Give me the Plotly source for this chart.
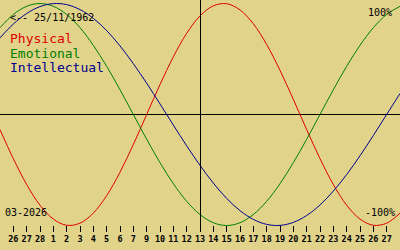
import plotly.graph_objects as go

# Day index across the window (0 = left edge, 30 = right edge)
days = list(range(31))

physical = [-0.136, -0.398, -0.631, -0.817, -0.942, -0.998, -0.979, -0.888, -0.731, -0.520,
            -0.270, 0.000, 0.270, 0.520, 0.731, 0.888, 0.979, 0.998, 0.942, 0.817,
            0.631, 0.398, 0.136, -0.136, -0.398, -0.631, -0.817, -0.942, -0.998, -0.979,
            -0.888]
emotional = [0.782, 0.901, 0.975, 1.000, 0.975, 0.901, 0.782, 0.623, 0.434, 0.223,
             0.000, -0.223, -0.434, -0.623, -0.782, -0.901, -0.975, -1.000, -0.975, -0.901,
             -0.782, -0.623, -0.434, -0.223, 0.000, 0.223, 0.434, 0.623, 0.782, 0.901,
             0.975]
intellectual = [0.690, 0.815, 0.910, 0.972, 0.999, 0.990, 0.945, 0.866, 0.756, 0.618,
                0.458, 0.282, 0.095, -0.095, -0.282, -0.458, -0.618, -0.756, -0.866, -0.945,
                -0.990, -0.999, -0.972, -0.910, -0.815, -0.690, -0.541, -0.372, -0.189, 0.000,
                0.189]

tick_days = list(range(1, 30))
tick_labels = ["26", "27", "28", "1", "2", "3", "4", "5", "6", "7", "9", "10", "11", "12", "13",
               "14", "15", "16", "17", "18", "19", "20", "21", "22", "23", "24", "25", "26", "27"]
today_index = 15

series_names = ["Physical", "Emotional", "Intellectual"]
series_colors = ["#e00000", "#008000", "#000090"]

BG = "#e1d38a"
MONO = "DejaVu Sans Mono"

W, H = 400, 250
x_min, x_max = 0, 30
y_top, y_bot = 1.0315, -1.2207
half_px_x = 0.5 * (x_max - x_min) / W  # keep the 1px today line crisp


def py(px):
    return 1 - px / H


def pxx(px):
    return px / W


fig = go.Figure()
for name, vals, col in zip(series_names, [physical, emotional, intellectual], series_colors):
    fig.add_trace(go.Scatter(x=days, y=vals, mode="lines", name=name,
                             line=dict(color=col, width=1, shape="spline", smoothing=1),
                             hoverinfo="skip"))

# today line
fig.add_shape(type="line", xref="x", yref="paper",
              x0=today_index + half_px_x, x1=today_index + half_px_x,
              y0=py(231), y1=1, line=dict(color="black", width=1))

ann = []
ann.append(dict(text="<-- 25/11/1962", x=pxx(9), y=py(17.7), xanchor="left", yanchor="middle",
                font=dict(family=MONO, size=10, color="black")))
for i, (name, col) in enumerate(zip(series_names, series_colors)):
    ann.append(dict(text=name, x=pxx(9), y=py(38.8 + 14.4 * i), xanchor="left", yanchor="middle",
                    font=dict(family=MONO, size=13, color=col)))
ann.append(dict(text="100%", x=pxx(393), y=py(12.2), xanchor="right", yanchor="middle",
                font=dict(family=MONO, size=10, color="black")))
ann.append(dict(text="-100%", x=pxx(396), y=py(212.8), xanchor="right", yanchor="middle",
                font=dict(family=MONO, size=10, color="black")))
ann.append(dict(text="03-2026", x=pxx(4), y=py(212), xanchor="left", yanchor="middle",
                font=dict(family=MONO, size=10, color="black")))
for a in ann:
    a.update(xref="paper", yref="paper", showarrow=False, borderpad=0)

fig.update_layout(
    width=W, height=H, margin=dict(l=0, r=0, t=0, b=0),
    paper_bgcolor=BG, plot_bgcolor=BG, showlegend=False,
    annotations=ann,
    xaxis=dict(range=[x_min, x_max], anchor="free", position=py(224.5), showgrid=False,
               zeroline=False, showline=False, ticks="outside", ticklen=6, tickwidth=1,
               tickcolor="black", tickvals=tick_days, ticktext=tick_labels,
               tickfont=dict(family=MONO, size=8.5, color="black", weight="bold"),
               fixedrange=True),
    yaxis=dict(range=[y_bot, y_top], showgrid=False, showticklabels=False, ticks="",
               zeroline=True, zerolinecolor="black", zerolinewidth=1, fixedrange=True),
)

fig.write_html("out.html", config={"displayModeBar": False})
